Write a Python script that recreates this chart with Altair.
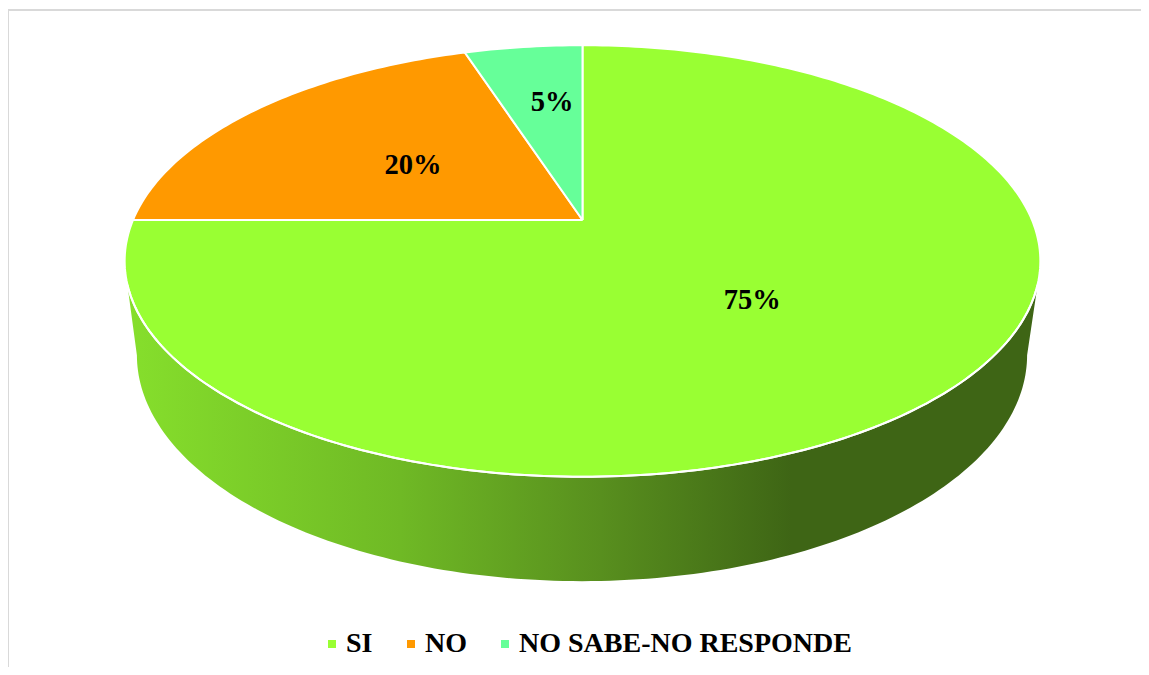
import math
import altair as alt
import pandas as pd

labels = ["SI", "NO", "NO SABE-NO RESPONDE"]
values = [75, 20, 5]
colors = ["#99FF33", "#FF9900", "#66FF99"]
texts = ["75%", "20%", "5%"]

# geometry of the tilted disc, in page pixels
K = 0.19
TOP = dict(cx=582.5, cy=220, a=449.5, b=208)
BOT = dict(cx=582, cy=312, a=437, b=218)
LABEL_R = [0.46, 0.51, 0.68]
LABEL_SHIFT = [(14, 8), (6, 4), (12, 6)]


def project(theta, g, r=1.0):
    t = math.radians(theta)
    X, Y = r * math.sin(t), r * math.cos(t)
    d = 1 + K * Y
    return g["cx"] + g["a"] * X / d, g["cy"] - g["b"] * Y / d


rows, label_rows = [], []
start = 0.0
for i, (name, v) in enumerate(zip(labels, values)):
    end = start + 360 * v / sum(values)
    pts = [project(0, TOP, 0)]
    n = max(4, int(end - start))
    for j in range(n + 1):
        pts.append(project(start + (end - start) * j / n, TOP))
    pts.append(project(0, TOP, 0))
    for j, (x, y) in enumerate(pts):
        rows.append({"name": name, "i": j, "x": x, "y": y})
    lx, ly = project((start + end) / 2, TOP, LABEL_R[i])
    label_rows.append({"x": lx + LABEL_SHIFT[i][0], "y": ly + LABEL_SHIFT[i][1], "t": texts[i]})
    start = end

wall = []
for j in range(0, 147):
    wall.append(project(107 + j, TOP))
wall.append(project(259, BOT))
for j in range(0, 159):
    wall.append(project(259 - j, BOT))
wall.append(wall[0])
wall_df = pd.DataFrame([{"i": i, "x": p[0], "y": p[1]} for i, p in enumerate(wall)])
rim = pd.DataFrame([{"i": j, "x": project(107 + j, TOP)[0], "y": project(107 + j, TOP)[1]} for j in range(147)])

X = alt.X("x:Q", scale=alt.Scale(domain=[8, 1141], nice=False, zero=False), axis=None)
Y = alt.Y("y:Q", scale=alt.Scale(domain=[667, 8], nice=False, zero=False), axis=None)

gradient = alt.Gradient(
    gradient="linear", x1=0, x2=1, y1=0, y2=0,
    stops=[
        alt.GradientStop(offset=0, color="#86DF2C"),
        alt.GradientStop(offset=0.30, color="#6FB925"),
        alt.GradientStop(offset=0.52, color="#588F1E"),
        alt.GradientStop(offset=0.73, color="#3E6515"),
        alt.GradientStop(offset=1, color="#3E6515"),
    ],
)

wall_layer = alt.Chart(wall_df).mark_line(filled=True, color=gradient, strokeWidth=0, interpolate="linear").encode(
    x=X, y=Y, order="i:Q"
)

slices = alt.Chart(pd.DataFrame(rows)).mark_line(filled=True, stroke="white", strokeWidth=2).encode(
    x=X, y=Y, order="i:Q", detail="name:N",
    color=alt.Color(
        "name:N",
        scale=alt.Scale(domain=labels, range=colors),
        sort=labels,
        legend=alt.Legend(
            title=None, orient="none", direction="horizontal",
            legendX=310, legendY=622, symbolType="square", symbolSize=64,
            symbolStrokeWidth=0, labelFont="Liberation Serif", labelFontWeight="bold",
            labelFontSize=28, labelColor="black", columnPadding=24, labelOffset=0,
            labelLimit=500,
        ),
    ),
)

rim_layer = alt.Chart(rim).mark_line(color="white", strokeWidth=2).encode(x=X, y=Y, order="i:Q")

text_layer = alt.Chart(pd.DataFrame(label_rows)).mark_text(
    font="Liberation Serif", fontWeight="bold", fontSize=28.5, color="black"
).encode(x=X, y=Y, text="t:N")

frame_v = alt.Chart(pd.DataFrame({"a": [0]})).mark_rule(color="#D9D9D9", strokeWidth=2).encode(
    x=alt.value(0), y=alt.value(2), y2=alt.value(659)
)
frame_h = alt.Chart(pd.DataFrame({"a": [0]})).mark_rule(color="#D9D9D9", strokeWidth=2).encode(
    y=alt.value(2), x=alt.value(0), x2=alt.value(1133)
)

chart = alt.layer(frame_v, frame_h, wall_layer, slices, rim_layer, text_layer).properties(
    width=1133, height=659, padding=0, autosize=alt.AutoSizeParams(type="none")
).configure_view(stroke=None)

chart.save("out.html", embed_options={"renderer": "svg", "actions": False})
